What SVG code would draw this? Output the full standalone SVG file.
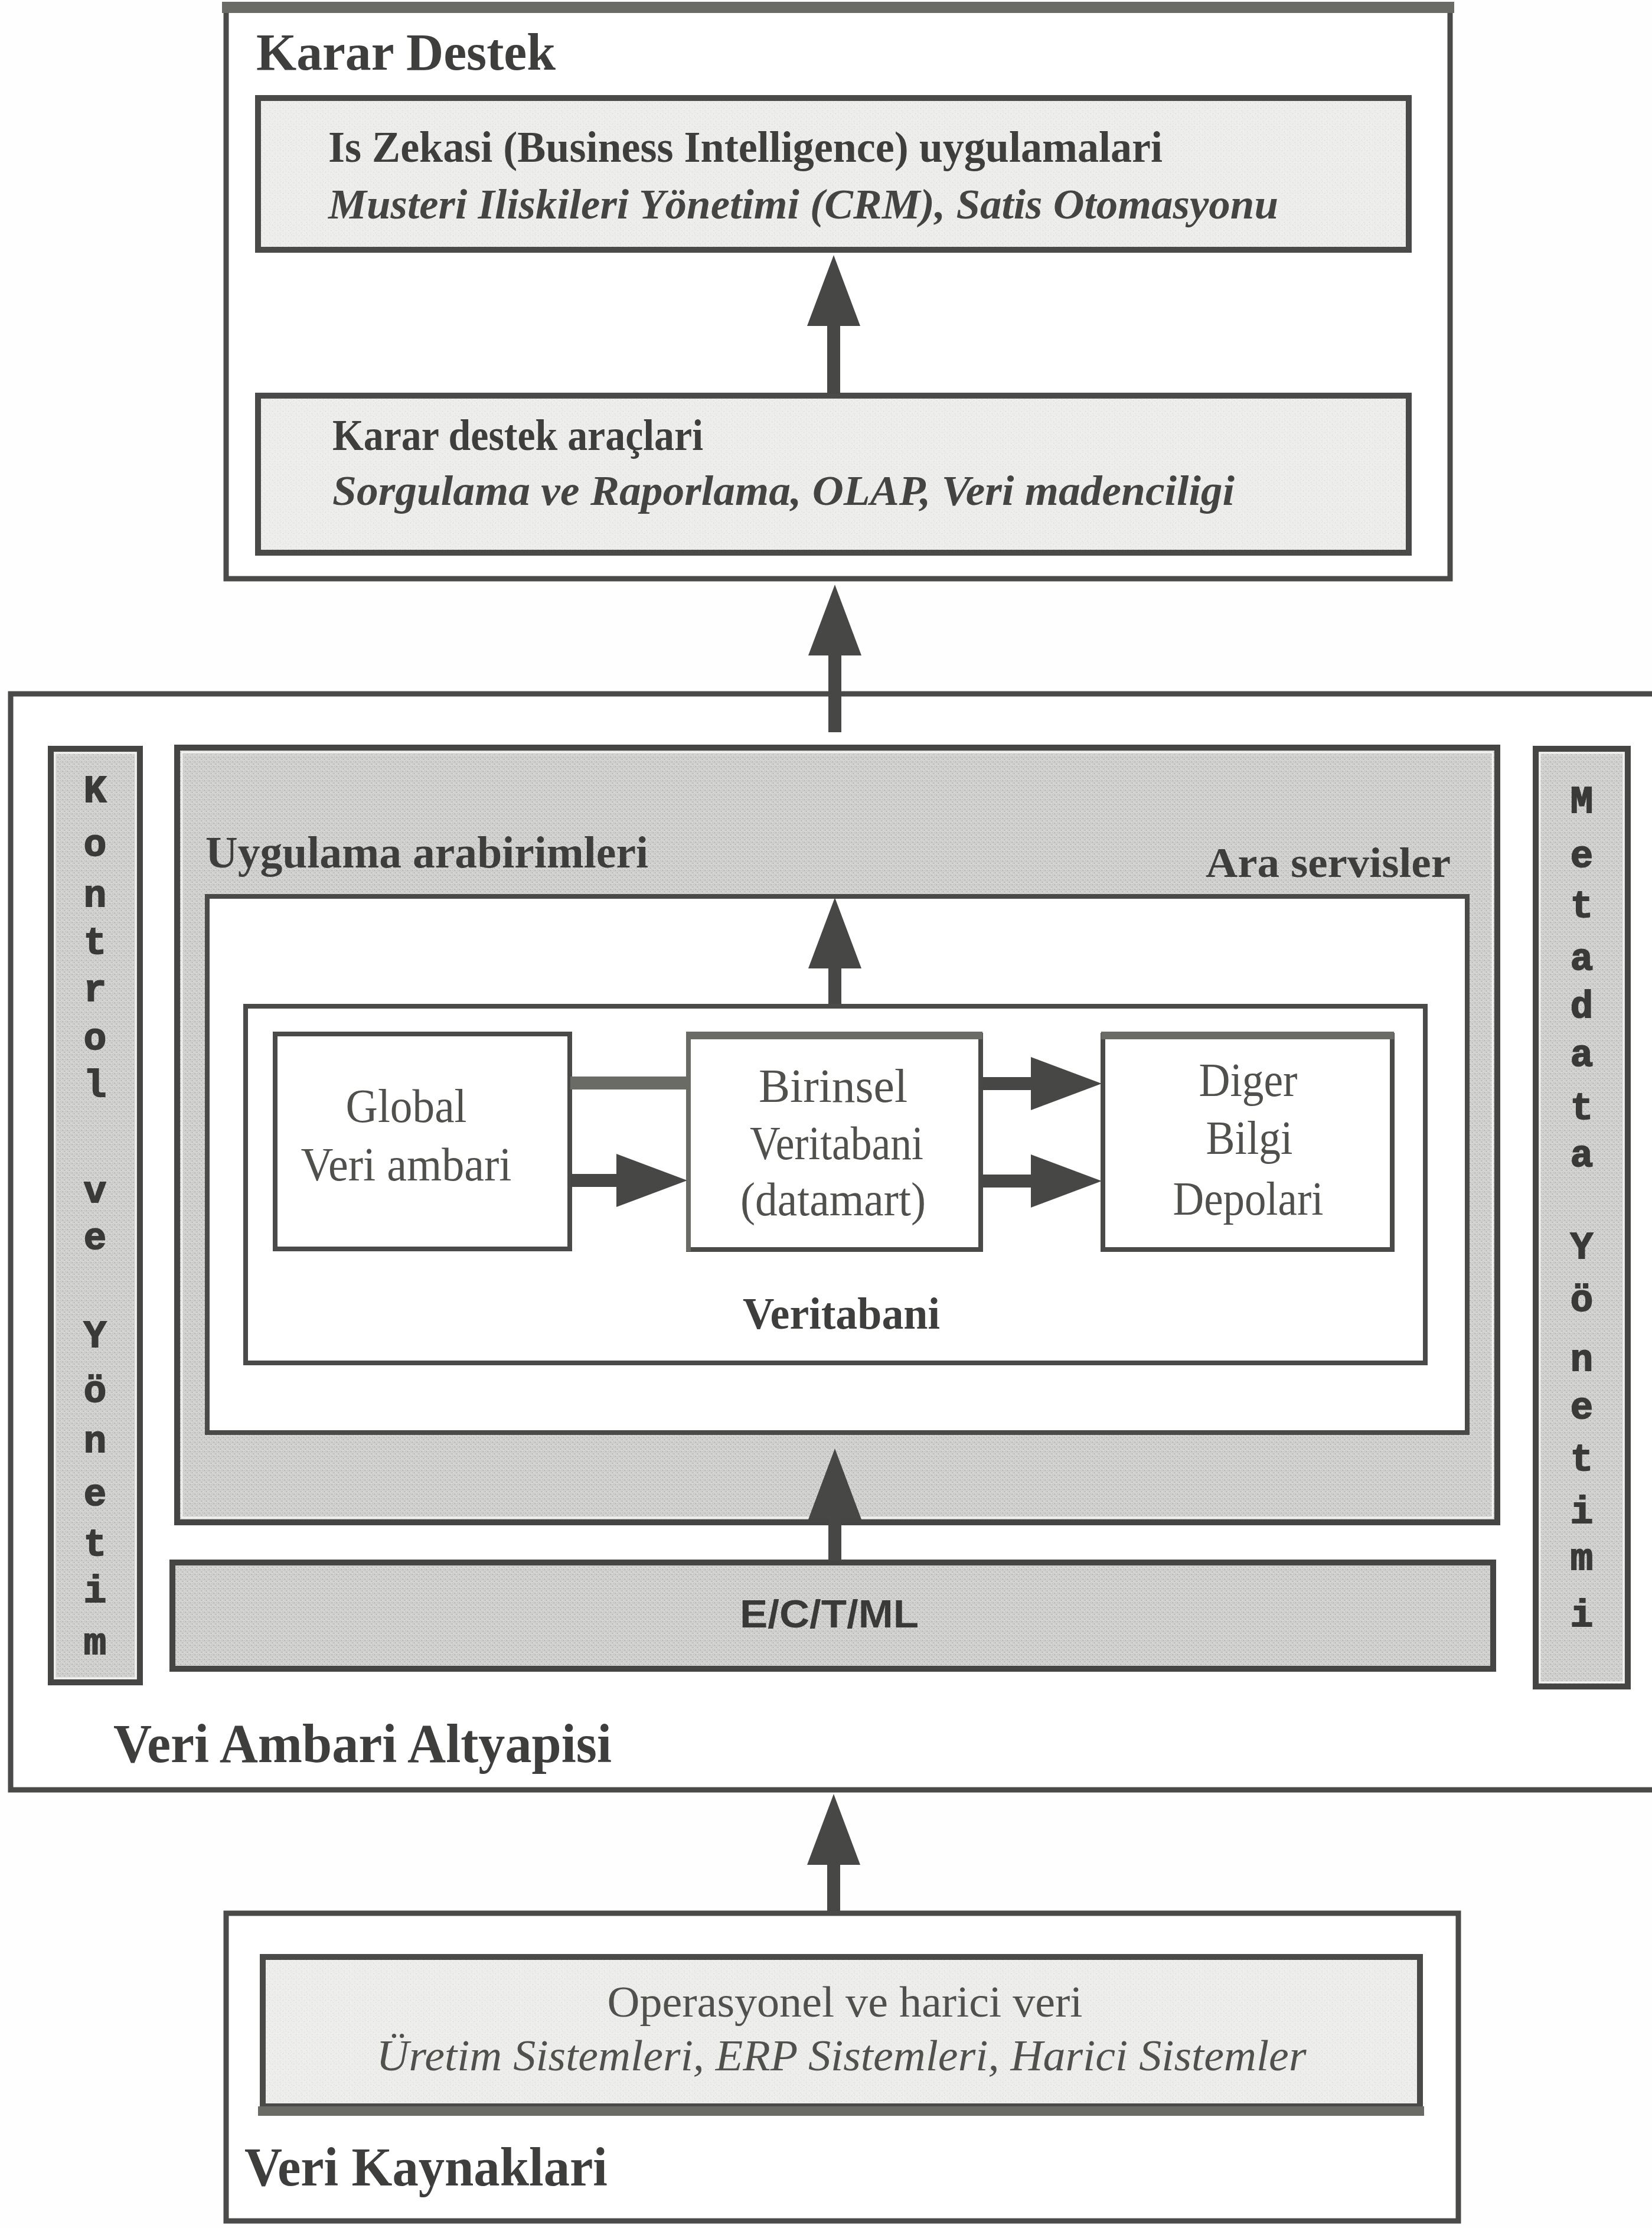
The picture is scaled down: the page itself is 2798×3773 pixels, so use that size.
<svg xmlns="http://www.w3.org/2000/svg" width="2798" height="3773" viewBox="0 0 2798 3773">
<defs>
<pattern id="grayTex" width="8" height="8" patternUnits="userSpaceOnUse">
<rect width="8" height="8" fill="#d0d0ce"/>
<rect x="1" y="2" width="2" height="1" fill="#a6a6a4"/>
<rect x="5" y="5" width="1" height="2" fill="#acacaa"/>
<rect x="4" y="0" width="2" height="1" fill="#e6e6e4"/>
<rect x="0" y="6" width="1" height="1" fill="#eaeae8"/>
<rect x="6" y="1" width="1" height="1" fill="#b4b4b2"/>
</pattern>
<pattern id="lightTex" width="9" height="9" patternUnits="userSpaceOnUse">
<rect width="9" height="9" fill="#ededeb"/>
<rect x="2" y="3" width="1" height="1" fill="#cfcfcd"/>
<rect x="6" y="7" width="1" height="1" fill="#d3d3d1"/>
<rect x="7" y="1" width="1" height="1" fill="#dadad8"/>
</pattern>
<marker id="ah" markerUnits="userSpaceOnUse" markerWidth="120" markerHeight="90" viewBox="0 0 120 90" refX="0" refY="45" orient="auto">
<path d="M0,0 L120,45 L0,90 Z" fill="#474745"/>
</marker>
</defs>
<style>
.frame{fill:#ffffff;stroke:#4a4a48;stroke-width:9}
.light{fill:url(#lightTex);stroke:#4a4a48;stroke-width:10}
.gray{fill:url(#grayTex);stroke:#454543;stroke-width:10}
.wbox{fill:#ffffff;stroke:#4a4a48;stroke-width:8}
.bar{fill:#6b6b66}
.hl{fill:none;stroke:#f2f2f0;stroke-width:3}
.title{font-family:"Liberation Serif",serif;font-weight:bold;fill:#3e3e3c}
.bold{font-family:"Liberation Serif",serif;font-weight:bold;fill:#3e3e3c}
.ital{font-family:"Liberation Serif",serif;font-weight:bold;font-style:italic;fill:#444442}
.reg{font-family:"Liberation Serif",serif;fill:#50504d;text-anchor:middle}
.vert{font-family:"Liberation Mono",monospace;font-weight:bold;font-size:64px;fill:#3a3a38;stroke:#3a3a38;stroke-width:2;text-anchor:middle}
.shaft{stroke:#474745;stroke-width:22;fill:none}
</style>
<rect width="2798" height="3773" fill="#fefefe"/>

<!-- Karar Destek -->
<g id="karar-destek">
<rect class="frame" x="383" y="14" width="2073" height="966"/>
<rect class="bar" x="376" y="3" width="2087" height="19" fill="#5e5e5b"/>
<text class="title" x="434" y="118" font-size="88" textLength="507" lengthAdjust="spacingAndGlyphs">Karar Destek</text>
</g>
<g id="is-zekasi">
<rect class="light" x="437" y="166" width="1949" height="257"/>
<text class="bold" x="556" y="274" font-size="74" textLength="1413" lengthAdjust="spacingAndGlyphs">Is Zekasi (Business Intelligence) uygulamalari</text>
<text class="ital" x="556" y="370" font-size="72" textLength="1609" lengthAdjust="spacingAndGlyphs">Musteri Iliskileri Yönetimi (CRM), Satis Otomasyonu</text>
</g>
<g id="karar-destek-araclari">
<rect class="light" x="437" y="670" width="1949" height="266"/>
<text class="bold" x="563" y="762" font-size="74" textLength="628" lengthAdjust="spacingAndGlyphs">Karar destek araçlari</text>
<text class="ital" x="563" y="855" font-size="72" textLength="1528" lengthAdjust="spacingAndGlyphs">Sorgulama ve Raporlama, OLAP, Veri madenciligi</text>
</g>

<!-- Veri Ambari Altyapisi -->
<g id="veri-ambari-altyapisi">
<rect class="frame" x="18" y="1175" width="2800" height="1856"/>
<text class="title" x="192" y="2984" font-size="94" textLength="844" lengthAdjust="spacingAndGlyphs">Veri Ambari Altyapisi</text>
</g>

<g id="kontrol-ve-yonetim">
<rect class="gray" x="86" y="1268" width="151" height="1581" stroke-width="7"/>
<rect class="hl" x="93" y="1275" width="137" height="1567"/>
<text class="vert" x="161" y="1358">K</text>
<text class="vert" x="161" y="1449">o</text>
<text class="vert" x="161" y="1535">n</text>
<text class="vert" x="161" y="1615">t</text>
<text class="vert" x="161" y="1695">r</text>
<text class="vert" x="161" y="1777">o</text>
<text class="vert" x="161" y="1857">l</text>
<text class="vert" x="161" y="2036">v</text>
<text class="vert" x="161" y="2115">e</text>
<text class="vert" x="161" y="2281">Y</text>
<text class="vert" x="161" y="2374">ö</text>
<text class="vert" x="161" y="2459">n</text>
<text class="vert" x="161" y="2549">e</text>
<text class="vert" x="161" y="2634">t</text>
<text class="vert" x="161" y="2713">i</text>
<text class="vert" x="161" y="2801">m</text>
</g>

<g id="metadata-yonetimi">
<rect class="gray" x="2601" y="1268" width="156" height="1588" stroke-width="7"/>
<rect class="hl" x="2608" y="1275" width="142" height="1574"/>
<text class="vert" x="2679" y="1376">M</text>
<text class="vert" x="2679" y="1468">e</text>
<text class="vert" x="2679" y="1553">t</text>
<text class="vert" x="2679" y="1642">a</text>
<text class="vert" x="2679" y="1723">d</text>
<text class="vert" x="2679" y="1805">a</text>
<text class="vert" x="2679" y="1895">t</text>
<text class="vert" x="2679" y="1975">a</text>
<text class="vert" x="2679" y="2131">Y</text>
<text class="vert" x="2679" y="2220">ö</text>
<text class="vert" x="2679" y="2321">n</text>
<text class="vert" x="2679" y="2402">e</text>
<text class="vert" x="2679" y="2490">t</text>
<text class="vert" x="2679" y="2579">i</text>
<text class="vert" x="2679" y="2658">m</text>
<text class="vert" x="2679" y="2754">i</text>
</g>

<g id="ara-servisler">
<rect class="gray" x="300" y="1266" width="2236" height="1312"/>
<rect class="hl" x="308" y="1274" width="2220" height="1296"/>
<text class="bold" x="348" y="1469" font-size="76" textLength="750" lengthAdjust="spacingAndGlyphs">Uygulama arabirimleri</text>
<text class="bold" x="2042" y="1485" font-size="72" textLength="415" lengthAdjust="spacingAndGlyphs">Ara servisler</text>
</g>

<g id="uygulama-cercevesi">
<rect class="wbox" x="351" y="1518" width="2134" height="908" stroke-width="13"/>
</g>

<g id="veritabani">
<rect class="wbox" x="416" y="1704" width="1998" height="604" stroke-width="10"/>
<text class="bold" x="1425" y="2250" font-size="76" text-anchor="middle" textLength="334" lengthAdjust="spacingAndGlyphs">Veritabani</text>
</g>

<g id="global-veri-ambari">
<rect class="wbox" x="466" y="1751" width="499" height="364"/>
<text class="reg" x="688" y="1900" font-size="80" textLength="205" lengthAdjust="spacingAndGlyphs">Global</text>
<text class="reg" x="688" y="1999" font-size="80" textLength="357" lengthAdjust="spacingAndGlyphs">Veri ambari</text>
</g>

<g id="birinsel-veritabani">
<rect class="wbox" x="1166" y="1753" width="495" height="363" stroke-width="7"/>
<rect class="bar" x="1162" y="1747" width="502" height="13"/>
<rect class="bar" x="1162" y="1747" width="8" height="372"/>
<text class="reg" x="1411" y="1866" font-size="80" textLength="252" lengthAdjust="spacingAndGlyphs">Birinsel</text>
<text class="reg" x="1417" y="1963" font-size="80" textLength="294" lengthAdjust="spacingAndGlyphs">Veritabani</text>
<text class="reg" x="1411" y="2058" font-size="80" textLength="314" lengthAdjust="spacingAndGlyphs">(datamart)</text>
</g>

<g id="diger-bilgi-depolari">
<rect class="wbox" x="1868" y="1753" width="490" height="363" stroke-width="7"/>
<rect class="bar" x="1865" y="1747" width="496" height="13"/>
<text class="reg" x="2114" y="1856" font-size="80" textLength="167" lengthAdjust="spacingAndGlyphs">Diger</text>
<text class="reg" x="2116" y="1954" font-size="80" textLength="147" lengthAdjust="spacingAndGlyphs">Bilgi</text>
<text class="reg" x="2114" y="2057" font-size="80" textLength="255" lengthAdjust="spacingAndGlyphs">Depolari</text>
</g>

<g id="ectml">
<rect class="gray" x="292" y="2646" width="2237" height="180" stroke-width="12"/>
<text x="1253" y="2756" font-family="'Liberation Sans',Arial,sans-serif" font-weight="bold" font-size="66" fill="#3a3a38" textLength="303" lengthAdjust="spacingAndGlyphs">E/C/T/ML</text>
</g>

<!-- Veri Kaynaklari -->
<g id="veri-kaynaklari">
<rect class="frame" x="383" y="3240" width="2087" height="521" stroke-width="10"/>
<text class="title" x="414" y="3701" font-size="94" textLength="615" lengthAdjust="spacingAndGlyphs">Veri Kaynaklari</text>
</g>
<g id="operasyonel-veri">
<rect class="light" x="445" y="3314" width="1960" height="253" stroke-width="8"/>
<rect class="bar" x="437" y="3567" width="1975" height="16"/>
<text class="reg" x="1431" y="3415" font-size="74" textLength="805" lengthAdjust="spacingAndGlyphs">Operasyonel ve harici veri</text>
<text class="reg" x="1425" y="3506" font-size="74" font-style="italic" textLength="1575" lengthAdjust="spacingAndGlyphs">Üretim Sistemleri, ERP Sistemleri, Harici Sistemler</text>
</g>

<!-- Connectors -->
<g id="connectors">
<line class="shaft" x1="1412" y1="667" x2="1412" y2="552" marker-end="url(#ah)"/>
<line class="shaft" x1="1414" y1="1240" x2="1414" y2="1110" marker-end="url(#ah)"/>
<line class="shaft" x1="1414" y1="1700" x2="1414" y2="1640" marker-end="url(#ah)"/>
<line class="shaft" x1="1414" y1="2642" x2="1414" y2="2573" marker-end="url(#ah)"/>
<line class="shaft" x1="1412" y1="3236" x2="1412" y2="3158" marker-end="url(#ah)"/>
<rect class="bar" x="966" y="1823" width="200" height="22"/>
<line class="shaft" x1="966" y1="1999" x2="1044" y2="1999" marker-end="url(#ah)"/>
<line class="shaft" x1="1661" y1="1835" x2="1746" y2="1835" marker-end="url(#ah)"/>
<line class="shaft" x1="1661" y1="2000" x2="1746" y2="2000" marker-end="url(#ah)"/>
</g>
</svg>
